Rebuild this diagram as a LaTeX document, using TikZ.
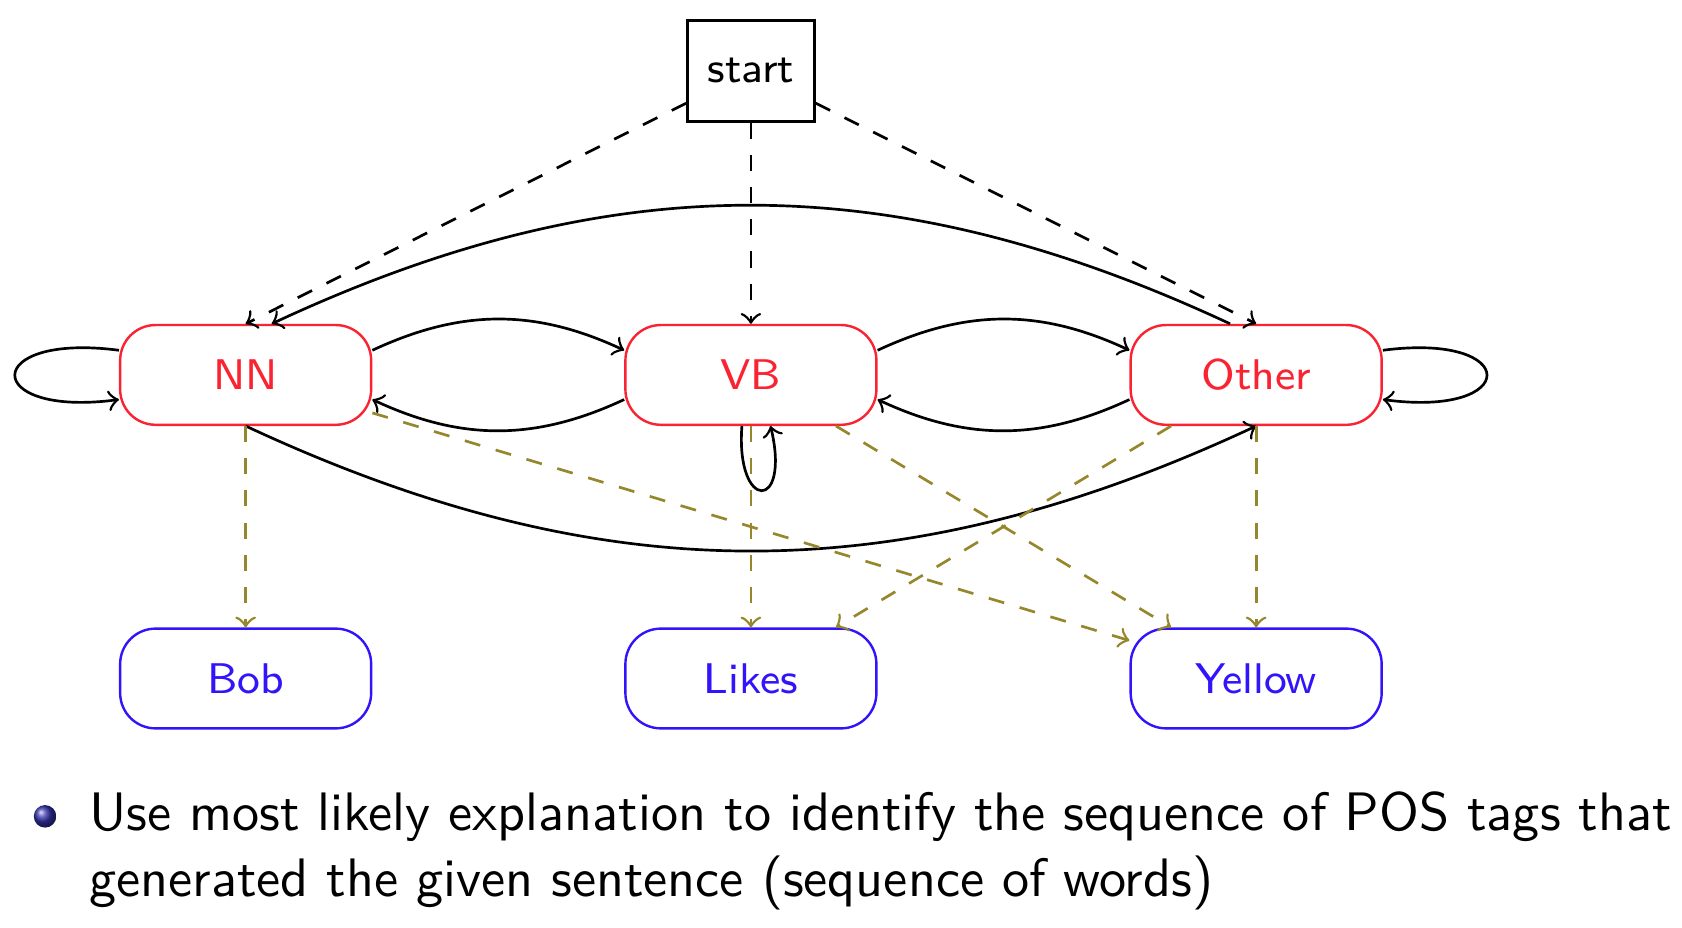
\documentclass[tikz,border=0pt]{standalone}
\definecolor{tagred}{RGB}{250,35,50}
\definecolor{wordblue}{RGB}{50,20,250}
\definecolor{emitolive}{RGB}{150,135,45}
\definecolor{ballblue}{RGB}{51,51,170}
\begin{document}
\begin{tikzpicture}[x=0.2pt,y=-0.2pt,line width=0.5pt,
  tagbox/.style={draw=tagred,text=tagred,line width=0.45pt,rounded corners=6.6pt,minimum width=46.8pt,minimum height=18.6pt,inner sep=0pt,font=\sffamily\fontsize{8}{9.6}\selectfont},
  wordbox/.style={draw=wordblue,text=wordblue,line width=0.45pt,rounded corners=6.6pt,minimum width=46.8pt,minimum height=18.6pt,inner sep=0pt,font=\sffamily\fontsize{8}{9.6}\selectfont},
  startbox/.style={draw,line width=0.55pt,minimum width=23.6pt,minimum height=18.8pt,inner sep=0pt,font=\sffamily\fontsize{8}{9.6}\selectfont},
  trans/.style={->,black},
  initedge/.style={->,dashed,black},
  emit/.style={->,dashed,emitolive},
  bodytext/.style={anchor=base west,inner sep=0pt,font=\sffamily\fontsize{10.1}{12}\selectfont}]
\useasboundingbox (0,0) rectangle (1568,865);
\node[startbox] (start) at (700,66) {start};
\node[tagbox] (NN) at (229,349.5) {NN};
\node[tagbox] (VB) at (700,349.5) {VB};
\node[tagbox] (Other) at (1171,349.5) {Other};
\node[wordbox] (Bob) at (229,632.5) {Bob};
\node[wordbox] (Likes) at (700,632.5) {Likes};
\node[wordbox] (Yellow) at (1171,632.5) {Yellow};
% initial transitions
\draw[initedge] (start) -- (NN.north);
\draw[initedge] (start) -- (VB);
\draw[initedge] (start) -- (Other.north);
% transitions
\draw[trans] (NN.11) to[bend left=25] (VB.169);
\draw[trans] (VB.191) to[bend left=25] (NN.349);
\draw[trans] (VB.11) to[bend left=25] (Other.169);
\draw[trans] (Other.191) to[bend left=25] (VB.349);
\draw[trans] (Other.117) to[bend right=25] (NN.63);
\draw[trans] (NN.south) to[bend right=25] (Other.south);
\draw[trans] (NN.169) .. controls +(-129,-17) and +(-129,17) .. (NN.191);
\draw[trans] (Other.11) .. controls +(129,-17) and +(129,17) .. (Other.349);
\draw[trans] (VB.260) .. controls +(-6,80) and +(19,80) .. (VB.291);
% emissions
\draw[emit] (NN) -- (Bob);
\draw[emit] (NN) -- (Yellow);
\draw[emit] (VB) -- (Likes);
\draw[emit] (VB) -- (Yellow);
\draw[emit] (Other) -- (Likes);
\draw[emit] (Other) -- (Yellow);
% bullet text
\shade[ball color=ballblue] (42,761) circle[radius=2.1pt];
\node[bodytext] (line1) at (82,774.4) {Use most likely explanation to identify the sequence of POS tags that};
\node[bodytext] (line2) at (82,836) {generated the given sentence (sequence of words)};
\end{tikzpicture}
\end{document}
